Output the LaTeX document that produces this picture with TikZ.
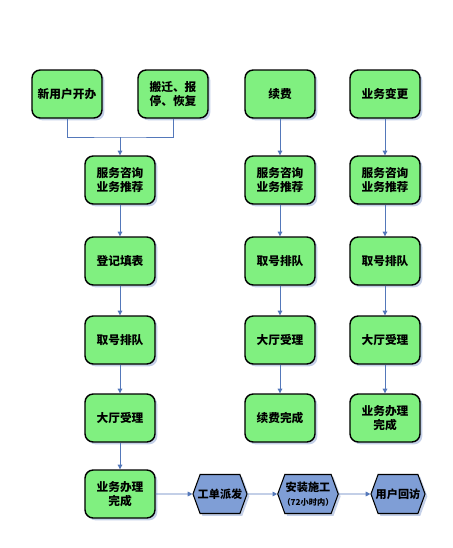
\documentclass[tikz,border=0pt]{standalone}
\usepackage{fontspec}
\setmainfont{Noto Sans CJK SC}
\definecolor{boxgreen}{RGB}{128,240,128}
\definecolor{hexblue}{RGB}{127,158,214}
\definecolor{linkblue}{RGB}{84,120,186}
\definecolor{shadowblue}{RGB}{196,208,232}
\usetikzlibrary{positioning, arrows.meta, shapes.symbols, shadows}

\begin{document}
\begin{tikzpicture}[x=0.03cm, y=-0.03cm,
  stepbox/.style={draw=black, fill=boxgreen, line width=1.2pt, rounded corners=7pt,
    minimum width=2.1cm, minimum height=1.44cm, inner sep=2pt,
    font=\fontsize{10}{12.5}\selectfont\bfseries, align=center,
    drop shadow={fill=shadowblue, shadow xshift=2pt, shadow yshift=-2pt, opacity=1}},
  hexbox/.style={draw=black, fill=hexblue, line width=0.9pt, signal, signal to=east and west,
    signal pointer angle=140, minimum height=1.17cm, inner xsep=-2pt, inner ysep=1pt,
    font=\fontsize{9.5}{11.5}\selectfont\bfseries, align=center,
    drop shadow={fill=shadowblue, shadow xshift=2pt, shadow yshift=-2pt, opacity=1}},
  link/.style={linkblue, line width=0.8pt},
  arrow/.style={-{Triangle[length=4pt, width=4pt]}, linkblue, line width=0.8pt},
]
  \useasboundingbox (0,0) rectangle (453,548);
  % top sources
  \node[stepbox] (new) at (67, 94) {新用户开办};
  \node[stepbox] (move) at (173, 94) {搬迁、报\\停、恢复};
  \node[stepbox] (renew) at (280, 94) {续费};
  \node[stepbox] (change) at (385, 94) {业务变更};
  % left column
  \node[stepbox] (ask1) at (120, 180) {服务咨询\\业务推荐};
  \node[stepbox] (form) at (120, 261) {登记填表};
  \node[stepbox] (queue1) at (120, 340) {取号排队};
  \node[stepbox] (hall1) at (120, 418) {大厅受理};
  \node[stepbox] (done1) at (120, 494) {业务办理\\完成};
  % middle column
  \node[stepbox] (ask2) at (280, 180) {服务咨询\\业务推荐};
  \node[stepbox] (queue2) at (280, 261) {取号排队};
  \node[stepbox] (hall2) at (280, 340) {大厅受理};
  \node[stepbox] (done2) at (280, 418) {续费完成};
  % right column
  \node[stepbox] (ask3) at (385, 180) {服务咨询\\业务推荐};
  \node[stepbox] (queue3) at (385, 261) {取号排队};
  \node[stepbox] (hall3) at (385, 340) {大厅受理};
  \node[stepbox] (done3) at (385, 418) {业务办理\\完成};
  % bottom row
  \node[hexbox] (order) at (220, 494) {工单派发};
  \node[hexbox] (setup) at (308, 494) {安装施工\\{\fontsize{7}{8}\selectfont（72小时内）}};
  \node[hexbox] (visit) at (398, 494) {用户回访};

  \coordinate (join) at (120, 137);
  \draw[link] (new.south) |- (join) -| (move.south);
  \draw[arrow] (join) -- (ask1);
  \draw[arrow] (ask1) -- (form);
  \draw[arrow] (form) -- (queue1);
  \draw[arrow] (queue1) -- (hall1);
  \draw[arrow] (hall1) -- (done1);
  \draw[arrow] (renew) -- (ask2);
  \draw[arrow] (ask2) -- (queue2);
  \draw[arrow] (queue2) -- (hall2);
  \draw[arrow] (hall2) -- (done2);
  \draw[arrow] (change) -- (ask3);
  \draw[arrow] (ask3) -- (queue3);
  \draw[arrow] (queue3) -- (hall3);
  \draw[arrow] (hall3) -- (done3);
  \draw[arrow] (done1) -- (order);
  \draw[arrow] (order) -- (setup);
  \draw[arrow] (setup) -- (visit);
\end{tikzpicture}
\end{document}
